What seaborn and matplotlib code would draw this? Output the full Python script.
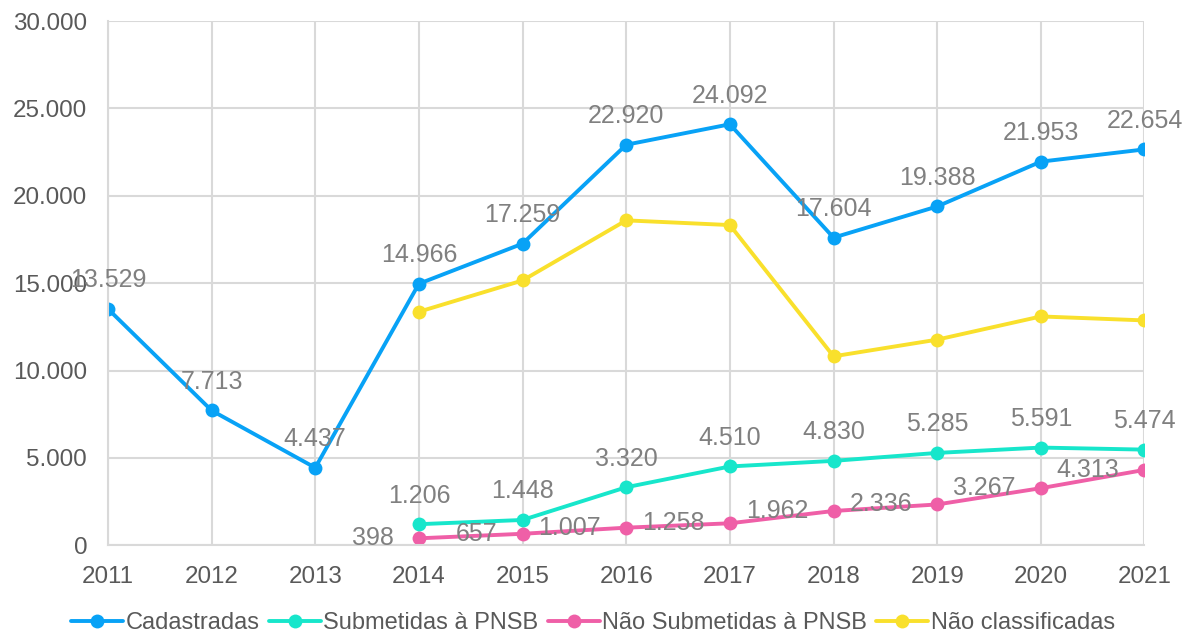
import numpy as np
import pandas as pd
import matplotlib
matplotlib.use("Agg")
import matplotlib.pyplot as plt
from matplotlib.ticker import FuncFormatter
import seaborn as sns

anos = [2011, 2012, 2013, 2014, 2015, 2016, 2017, 2018, 2019, 2020, 2021]
anos_pnsb = [2014, 2015, 2016, 2017, 2018, 2019, 2020, 2021]

cadastradas = [13529, 7713, 4437, 14966, 17259, 22920, 24092, 17604, 19388, 21953, 22654]
submetidas = [1206, 1448, 3320, 4510, 4830, 5285, 5591, 5474]
nao_submetidas = [398, 657, 1007, 1258, 1962, 2336, 3267, 4313]
nao_classificadas = [13362, 15154, 18593, 18324, 10812, 11767, 13095, 12867]

series = [
    ("Cadastradas", anos, cadastradas, "#08A2F6", "above"),
    ("Submetidas à PNSB", anos_pnsb, submetidas, "#17E6CB", "above"),
    ("Não Submetidas à PNSB", anos_pnsb, nao_submetidas, "#EF5FA7", "left"),
    ("Não classificadas", anos_pnsb, nao_classificadas, "#F9E02C", None),
]

sns.set_style("white")
plt.rcParams['font.family'] = ['Liberation Sans', 'DejaVu Sans']

def fmt(v):
    return f"{v:,.0f}".replace(",", ".")

fig, ax = plt.subplots(figsize=(11.86, 6.37), dpi=100)
fig.subplots_adjust(left=0.091, right=0.965, top=0.967, bottom=0.144)

for nome, x, y, cor, pos in series:
    df = pd.DataFrame({"ano": x, "valor": y})
    sns.lineplot(data=df, x="ano", y="valor", ax=ax, color=cor, linewidth=2.8,
                 marker="o", markersize=10, markeredgewidth=0, label=nome)
    if pos == "above":
        for xi, yi in zip(x, y):
            ax.annotate(fmt(yi), (xi, yi), xytext=(0, 12), textcoords="offset points",
                        ha="center", va="bottom", fontsize=18, color="#808080")
    elif pos == "left":
        for xi, yi in zip(x, y):
            ax.annotate(fmt(yi), (xi, yi), xytext=(-18, 0), textcoords="offset points",
                        ha="right", va="center", fontsize=18, color="#808080")

ax.set_xlim(2011, 2021)
ax.set_ylim(0, 30000)
ax.set_xticks(anos)
ax.set_yticks(np.arange(0, 30001, 5000))
ax.yaxis.set_major_formatter(FuncFormatter(lambda v, p: fmt(v)))
ax.set_xlabel("")
ax.set_ylabel("")
ax.grid(True, color="#D9D9D9", linewidth=1.5)
ax.set_axisbelow(True)
for s in ["top", "right"]:
    ax.spines[s].set_visible(False)
for s in ["left", "bottom"]:
    ax.spines[s].set_color("#D9D9D9")
    ax.spines[s].set_linewidth(1.5)
ax.tick_params(axis="both", length=0, labelsize=17.4, colors="#595959")
ax.tick_params(axis="y", pad=15)
ax.tick_params(axis="x", pad=15)

ax.legend(loc="center", bbox_to_anchor=(0.5, 0.022), bbox_transform=fig.transFigure,
          ncol=4, frameon=False, fontsize=17, handlelength=2.2, handletextpad=0.1,
          columnspacing=0.4, labelcolor="#595959")

fig.savefig("out.png", dpi=100)
